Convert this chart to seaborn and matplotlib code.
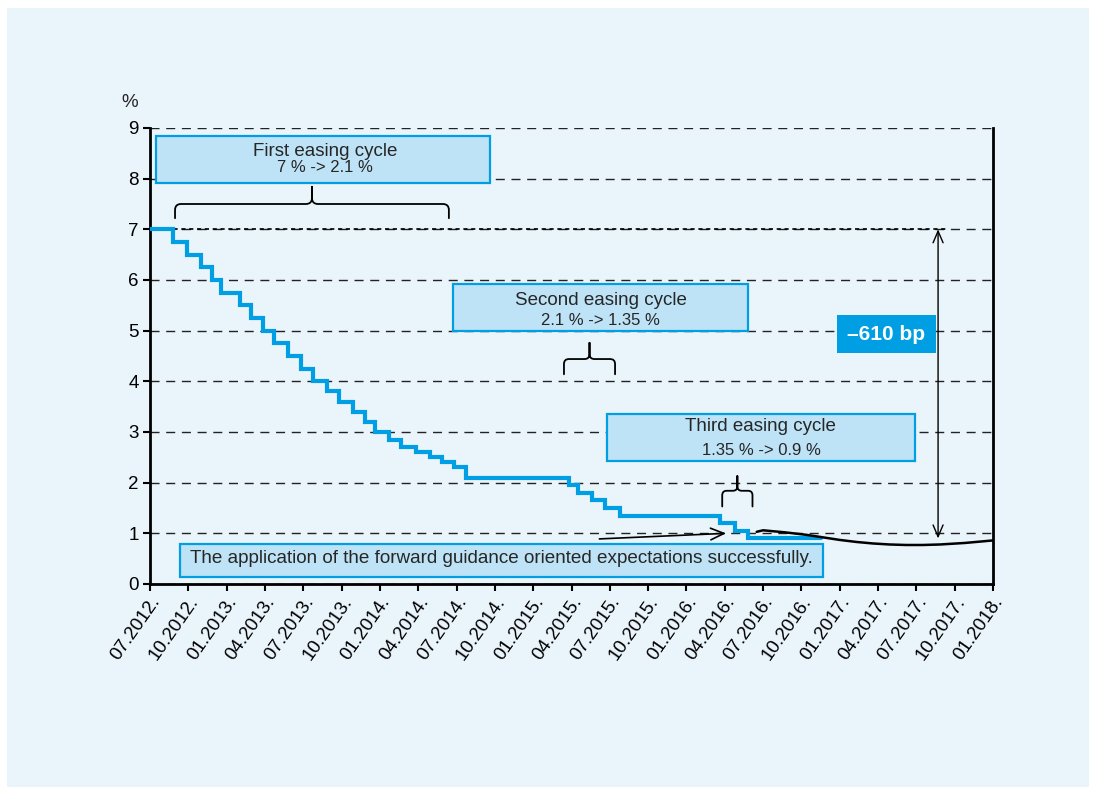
import matplotlib
matplotlib.use("Agg")
import matplotlib.pyplot as plt
import seaborn as sns
import pandas as pd
from matplotlib.patches import Rectangle, PathPatch
from matplotlib.path import Path

# ---------------- data ----------------
# months since 07.2012 at which the policy rate changes, and the new rate (%)
policy_month = [0, 1.83, 2.87, 4.0, 4.88, 5.56, 7.05, 7.9, 8.83, 9.73, 10.83, 11.8,
                12.74, 13.88, 14.82, 15.92, 16.84, 17.62, 18.74, 19.63, 20.83, 21.93,
                22.89, 23.8, 24.75, 32.77, 33.5, 34.6, 35.6, 36.8, 44.6, 45.8, 46.85, 52.5]
policy_rate = [7.0, 6.75, 6.5, 6.25, 6.0, 5.75, 5.5, 5.25, 5.0, 4.75, 4.5, 4.25,
               4.0, 3.8, 3.6, 3.4, 3.2, 3.0, 2.85, 2.7, 2.6, 2.5,
               2.4, 2.3, 2.1, 1.95, 1.8, 1.65, 1.5, 1.35, 1.2, 1.05, 0.9, 0.9]

# market expectations curve
expect_month = [47.5, 48.0, 49.7, 51.4, 52.7, 54.0, 55.3, 56.6, 57.9, 59.2, 60.5, 61.85, 63.8, 66.0]
expect_rate = [1.03, 1.06, 1.02, 0.97, 0.92, 0.87, 0.83, 0.80, 0.78, 0.77, 0.77, 0.78, 0.81, 0.86]

tick_months = list(range(0, 67, 3))
tick_labels = ["07.2012.", "10.2012.", "01.2013.", "04.2013.", "07.2013.", "10.2013.",
               "01.2014.", "04.2014.", "07.2014.", "10.2014.", "01.2015.", "04.2015.",
               "07.2015.", "10.2015.", "01.2016.", "04.2016.", "07.2016.", "10.2016.",
               "01.2017.", "04.2017.", "07.2017.", "10.2017.", "01.2018."]
y_ticks = list(range(0, 10))

# ---------------- style ----------------
sns.set_theme(style="white")
plt.rcParams["font.family"] = ["Liberation Sans", "DejaVu Sans"]

BLUE = "#009FE3"
BOX_FILL = "#BEE3F6"
PANEL = "#EAF4FB"

W, H = 1096, 795
fig = plt.figure(figsize=(W / 100, H / 100), dpi=100)
fig.patch.set_facecolor("white")
fig.add_artist(Rectangle((7 / W, 8 / H), (W - 14) / W, (H - 16) / H,
                         transform=fig.transFigure, facecolor=PANEL, edgecolor="none", zorder=-10))

ax_l, ax_b, ax_w, ax_h = 150 / W, (H - 584) / H, 843 / W, 456 / H
ax = fig.add_axes([ax_l, ax_b, ax_w, ax_h])
ax.set_facecolor("none")

XMAX = tick_months[-1]
PPX = ax_w * W / XMAX      # px per month
PPY = ax_h * H / 9.0       # px per %

# lines
df_policy = pd.DataFrame({"month": policy_month, "rate": policy_rate})
df_expect = pd.DataFrame({"month": expect_month, "rate": expect_rate})
sns.lineplot(data=df_policy, x="month", y="rate", drawstyle="steps-post", color=BLUE,
             lw=3.0, ax=ax, solid_joinstyle="miter", zorder=4)
sns.lineplot(data=df_expect, x="month", y="rate", color="black", lw=1.8, ax=ax, zorder=5)

ax.set_xlim(0, XMAX)
ax.set_ylim(0, 9)
ax.set_xticks(tick_months)
ax.set_xticklabels(tick_labels, rotation=55, ha="right", va="top", rotation_mode="anchor")
ax.set_yticks(y_ticks)
ax.set_yticklabels([str(v) for v in y_ticks])
ax.set_xlabel("")
ax.set_ylabel("")

ax.yaxis.grid(True, linestyle=(0, (6.5, 4.8)), color="#222222", lw=1.0)
ax.xaxis.grid(False)
ax.set_axisbelow(True)

for s in ["left", "bottom", "right"]:
    ax.spines[s].set_visible(True)
    ax.spines[s].set_color("black")
    ax.spines[s].set_linewidth(2.0)
ax.spines["top"].set_visible(False)
ax.tick_params(axis="both", which="major", direction="out", length=5, width=1.5,
               color="black", labelsize=13.5, labelcolor="black", left=True, bottom=True,
               right=False, top=False)
ax.tick_params(axis="x", pad=2)
ax.tick_params(axis="y", pad=3)

ax.text(-0.024, 1.055, "%", transform=ax.transAxes, ha="center", va="center", fontsize=13.5)

# dotted reference line at the starting rate
arrow_x = 61.7
ax.hlines(policy_rate[0], 0, arrow_x + 0.7, colors="black", linestyles=(0, (2.5, 2.2)), lw=1.2, zorder=3)

# -610 bp double arrow
ax.annotate("", xy=(arrow_x, policy_rate[0]), xytext=(arrow_x, policy_rate[-1]),
            arrowprops=dict(arrowstyle="<->,head_length=0.7,head_width=0.3", lw=1.0,
                            color="black", shrinkA=0, shrinkB=0), zorder=6)
ax.add_patch(Rectangle((53.78, 4.56), 7.72, 0.75, facecolor=BLUE, edgecolor="none", zorder=7))
ax.text(57.64, 4.93, "\u2013610 bp", ha="center", va="center", color="white",
        fontsize=15, fontweight="bold", zorder=8)

# forward guidance arrow
ax.annotate("", xy=(45.1, 1.0), xytext=(35.18, 0.89),
            arrowprops=dict(arrowstyle="->,head_length=0.8,head_width=0.35", lw=1.2,
                            color="black", shrinkA=0, shrinkB=0), zorder=6)


def box(x0, x1, y0, y1):
    ax.add_patch(Rectangle((x0, y0), x1 - x0, y1 - y0, facecolor=BOX_FILL,
                           edgecolor=BLUE, lw=1.6, zorder=7))


def brace(x0, x1, y_end, y_h, y_tip, r_px=6.0):
    rx = r_px / PPX
    ry = r_px / PPY
    xm = (x0 + x1) / 2
    verts = [(x0, y_end), (x0, y_h - ry), (x0, y_h), (x0 + rx, y_h),
             (xm - rx, y_h), (xm, y_h), (xm, y_h + ry), (xm, y_tip),
             (xm, y_h + ry), (xm, y_h), (xm + rx, y_h),
             (x1 - rx, y_h), (x1, y_h), (x1, y_h - ry), (x1, y_end)]
    codes = [Path.MOVETO, Path.LINETO, Path.CURVE3, Path.CURVE3,
             Path.LINETO, Path.CURVE3, Path.CURVE3, Path.LINETO,
             Path.LINETO, Path.CURVE3, Path.CURVE3,
             Path.LINETO, Path.CURVE3, Path.CURVE3, Path.LINETO]
    ax.add_patch(PathPatch(Path(verts, codes), facecolor="none", edgecolor="black",
                           lw=1.3, zorder=6, joinstyle="round", capstyle="round"))


MAIN_FS = 13.5
SUB_FS = 12

# first easing cycle
box(0.47, 26.6, 7.91, 8.84)
ax.text(13.7, 8.45, "First easing cycle", ha="center", va="baseline", fontsize=MAIN_FS, zorder=8)
ax.text(13.7, 8.13, "7 % -> 2.1 %", ha="center", va="baseline", fontsize=SUB_FS, zorder=8)
brace(1.96, 23.4, 7.22, 7.5, 7.84)

# second easing cycle
box(23.73, 46.83, 5.0, 5.92)
ax.text(35.3, 5.51, "Second easing cycle", ha="center", va="baseline", fontsize=MAIN_FS, zorder=8)
ax.text(35.3, 5.11, "2.1 % -> 1.35 %", ha="center", va="baseline", fontsize=SUB_FS, zorder=8)
brace(32.41, 36.41, 4.14, 4.44, 4.76, r_px=5)

# third easing cycle
box(35.8, 59.9, 2.43, 3.36)
ax.text(47.8, 3.01, "Third easing cycle", ha="center", va="baseline", fontsize=MAIN_FS, zorder=8)
ax.text(47.9, 2.55, "1.35 % -> 0.9 %", ha="center", va="baseline", fontsize=SUB_FS, zorder=8)
brace(44.8, 47.17, 1.53, 1.84, 2.13, r_px=4.5)

# forward guidance box
box(2.35, 52.68, 0.144, 0.78)
ax.text(27.5, 0.41, "The application of the forward guidance oriented expectations successfully.",
        ha="center", va="baseline", fontsize=13.6, zorder=8)

fig.savefig("out.png", dpi=100, facecolor=fig.get_facecolor())
